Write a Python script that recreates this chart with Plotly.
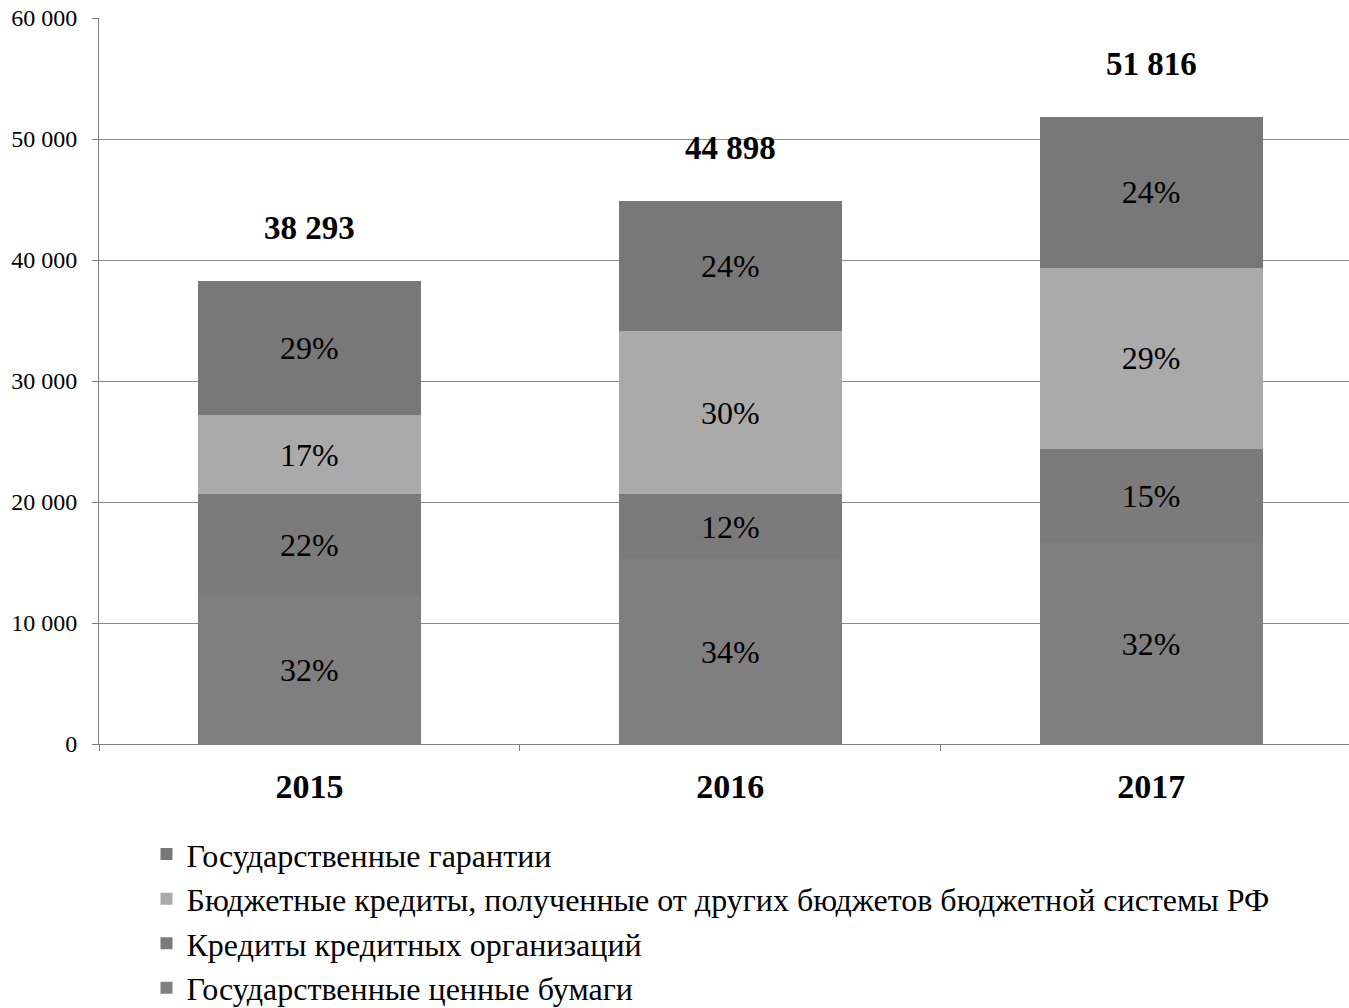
import plotly.graph_objects as go

years = ["2015", "2016", "2017"]
totals = [38293, 44898, 51816]

# stacked bottom -> top
securities = [12250, 15270, 16580]      # Государственные ценные бумаги
credit_org = [8420, 5390, 7770]         # Кредиты кредитных организаций
budget_loans = [6510, 13470, 15030]     # Бюджетные кредиты ...
guarantees = [11113, 10768, 12436]      # Государственные гарантии

names = [
    "Государственные ценные бумаги",
    "Кредиты кредитных организаций",
    "Бюджетные кредиты, полученные от других бюджетов бюджетной системы РФ",
    "Государственные гарантии",
]
series = [securities, credit_org, budget_loans, guarantees]
colors = ["#7f7f7f", "#7b7b7b", "#aaaaaa", "#787878"]

y_ticks = [0, 10000, 20000, 30000, 40000, 50000, 60000]
y_ticktext = ["0", "10 000", "20 000", "30 000", "40 000", "50 000", "60 000"]

FONT = "Liberation Serif"

fig = go.Figure()
for i, (name, vals, col) in enumerate(zip(names, series, colors)):
    txt = [f"{round(v / t * 100)}%" for v, t in zip(vals, totals)]
    fig.add_trace(go.Bar(
        x=years, y=vals, name=name, legendgroup=f"g{i}",
        marker=dict(color=col, line=dict(width=0)),
        text=txt, textposition="inside", insidetextanchor="middle",
        textfont=dict(family=FONT, size=32, color="#000000"),
        textangle=0,
    ))

for i, t in enumerate(totals):
    fig.add_annotation(
        x=i, y=t, xref="x", yref="y",
        text="<b>" + f"{t:,}".replace(",", " ") + "</b>",
        showarrow=False, yanchor="middle", yshift=53,
        font=dict(family=FONT, size=33, color="#000000"),
    )

fig.update_layout(
    width=1349, height=1008,
    barmode="stack", bargap=0.47,
    plot_bgcolor="white", paper_bgcolor="white",
    margin=dict(l=99, r=0, t=18, b=264, autoexpand=False),
    font=dict(family=FONT, color="#000000"),
    showlegend=True,
    legend=dict(
        orientation="v", traceorder="reversed",
        x=0.038, xanchor="left", y=-0.114, yanchor="top",
        font=dict(family=FONT, size=32, color="#000000"),
        itemwidth=30, tracegroupgap=4,
    ),
    uniformtext=dict(mode=False),
)
fig.update_xaxes(
    type="category", range=[-0.5, 2.47],
    showline=True, linecolor="#808080", linewidth=1,
    ticks="outside", tickson="boundaries", ticklen=6, tickcolor="#808080",
    tickfont=dict(family=FONT, size=34, color="#000000"),
    ticktext=[f"<b>{y}</b>" for y in years], tickvals=years,
    ticklabelstandoff=12, automargin=False,
    showgrid=False,
)
fig.update_yaxes(
    range=[0, 60000], tickvals=y_ticks, ticktext=y_ticktext,
    showline=True, linecolor="#808080", linewidth=1,
    ticks="outside", ticklen=6, tickcolor="#808080",
    showgrid=True, gridcolor="#8a8a8a", gridwidth=1,
    tickfont=dict(family=FONT, size=24, color="#000000"),
    ticklabelstandoff=10, automargin=False,
    zeroline=False,
)

fig.write_html(
    "out.html",
    config={"displayModeBar": False},
    post_script="document.body.style.margin='0';document.body.style.overflow='hidden';",
)
